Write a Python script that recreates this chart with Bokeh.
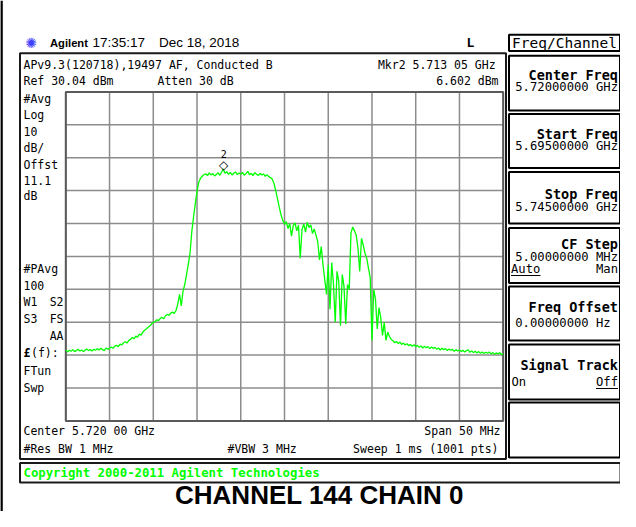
import numpy as np
from bokeh.plotting import figure
from bokeh.models import Range1d
from bokeh.core.properties import value
from bokeh.embed import file_html
from bokeh.resources import INLINE

# ---------------- data ----------------
start_ghz = 5.695
stop_ghz = 5.745
step_mhz = 0.2
ref_dbm = 30.04
db_per_div = 10
n_div = 10

trace_dbm = [
    # 5.695 .. 5.700 GHz
    -48.4, -49.0, -48.5, -48.8, -48.3, -48.9, -48.6, -48.2, -48.7, -48.4,
    -48.9, -48.5, -48.1, -48.6, -48.3, -48.7, -48.2, -48.5, -48.0, -48.4,
    -47.9, -48.3, -48.6, -47.8, -48.2, -47.9,
    -47.5, -47.9, -47.2, -47.0, -47.4, -46.6, -46.9, -46.2, -45.9, -46.3, -45.5, -45.2,
    -44.6, -45.0, -44.2, -44.5, -43.6, -43.9, -43.0,
    -42.4, -42.0, -41.5, -41.1, -40.5,
    -40.0, -39.8, -39.2, -39.5, -38.8, -38.5, -38.9, -38.0,
    -37.6, -37.9, -37.2, -36.9, -37.3, -36.4,
    -34.5, -31.5, -35.0, -30.5, -28.5, -25.5, -22.4, -19.0, -12.5, -8.0,
    -4.0, -0.2, 2.6, 3.8, 4.4, 4.9,
    # flat top
    5.1, 4.6, 5.4, 4.8, 5.2, 4.5, 4.9, 5.5, 4.7, 5.6,
    6.6, 5.3, 5.8, 5.0, 5.6, 4.8, 5.3, 5.7, 4.9, 5.4,
    5.0, 5.6, 4.7, 5.2, 5.9, 4.9, 5.3, 4.6, 5.5, 5.0,
    4.6, 5.3, 4.8, 5.1, 4.4, 4.9, 4.3, 4.0,
    3.5, 2.2, 0.0, -2.5, -5.0, -7.3, -9.0,
    # shoulder
    -10.2, -9.4, -11.5, -10.0, -13.8, -10.6, -9.8, -12.2, -10.5, -20.5,
    -11.8, -10.1, -12.6, -9.6, -11.2, -10.4, -13.0, -11.6, -13.5,
    # broken region / second lobe
    -15.5, -21.0, -17.0, -22.5, -27.0, -31.5, -22.5, -36.0, -21.8, -28.5,
    -40.0, -24.5, -27.5, -41.0, -25.5, -29.0, -40.5, -28.5, -30.0, -12.8,
    -11.0, -12.2, -13.5, -17.5, -24.5, -14.5, -16.5, -19.0, -20.5, -23.5,
    -26.5, -45.5, -30.0, -33.0, -42.0, -35.5, -38.5, -44.0, -40.0, -45.5,
    -43.0, -44.3, -45.2,
    # tail
    -45.6, -46.2, -45.8, -46.5, -46.0, -46.7, -46.3, -46.9, -46.5, -47.1,
    -46.7, -47.3, -46.8, -47.4, -47.0, -47.6, -47.2, -47.8, -47.3, -47.7,
    -47.4, -48.0, -47.5, -47.9, -47.6, -48.2, -47.8, -48.4, -47.9, -48.3,
    -48.0, -48.6, -48.1, -48.5, -48.2, -48.8, -48.3, -48.7, -48.4, -48.9,
    -48.5, -49.0, -48.6, -48.4, -49.1, -48.7, -49.2, -48.8, -49.3, -48.9,
    -49.4, -49.0, -49.5, -49.1, -49.4, -49.0, -49.6, -49.2, -49.7, -49.3,
    -49.6, -49.2, -49.8, -49.5,
]
freq_ghz = start_ghz + np.arange(len(trace_dbm)) * step_mhz / 1000.0

mkr_ghz = 5.71305
mkr_dbm = 6.602
mkr_label = "2"

left_labels_top = ["#Avg", "Log", "10", "dB/", "Offst", "11.1", "dB"]
softkey_titles = ["Center Freq", "Start Freq", "Stop Freq", "CF Step", "Freq Offset", "Signal Track", ""]
softkey_values = ["5.72000000 GHz", "5.69500000 GHz", "5.74500000 GHz", "5.00000000 MHz", "0.00000000  Hz", "", ""]

# ---------------- layout (image pixel coordinates) ----------------
TOP = 8
W, H = 620, 511
GX0, GX1 = 73.3, 510.7
GY0, GY1 = 99.4, 428.4

p = figure(width=W, height=H, x_range=Range1d(8, 8 + W), y_range=Range1d(TOP + H, TOP),
           x_axis_type=None, y_axis_type=None, output_backend="svg",
           toolbar_location=None, min_border=0)
p.outline_line_color = None
p.background_fill_color = "white"
p.border_fill_color = "white"

fs = (stop_ghz - start_ghz) / (GX1 - GX0)
bot_dbm = ref_dbm - n_div * db_per_div
ds = n_div * db_per_div / (GY1 - GY0)
p.extra_x_ranges = {"f": Range1d(start_ghz - (GX0 - 8) * fs, stop_ghz + (8 + W - GX1) * fs)}
p.extra_y_ranges = {"d": Range1d(bot_dbm - (TOP + H - GY1) * ds, ref_dbm + (GY0 - TOP) * ds)}

MONO = "DejaVu Sans Mono"
SANS = "Liberation Sans"


def txt(x, y, s, size="11.5px", font=MONO, style="normal", color="black", align="left",
        baseline="middle", **kw):
    p.text(x=[x], y=[y], text=[s], text_font=value(font), text_font_size=value(size),
           text_font_style=style, text_color=color, text_align=align,
           text_baseline=baseline, **kw)


def box(l, r, t, b, color="black", width=2):
    p.quad(left=[l], right=[r], top=[t], bottom=[b], fill_color=None,
           line_color=color, line_width=width)


# outer frame (left edge visible)
p.segment(x0=[9], y0=[TOP], x1=[9], y1=[TOP + H], line_color="black", line_width=2.6)

# header
txt(38.5, 50, "\u273A", size="14px", font="DejaVu Sans", color="#3f3fff", align="center")
txt(57.5, 50, "Agilent", size="11.2px", font=SANS, style="bold")
txt(100, 50, "17:35:17", size="13.5px", font=SANS)
txt(166.5, 50, "Dec 18, 2018", size="13.5px", font=SANS)
txt(478, 50, "L", size="13px", font=MONO, style="bold", align="center")

# main display box
box(27.5, 513.5, 60.8, 466.5, color="#1a1a1a", width=2)

# graticule
vx = [start_ghz + k * (stop_ghz - start_ghz) / n_div for k in range(n_div + 1)]
hy = [ref_dbm - k * db_per_div for k in range(n_div + 1)]
p.segment(x0=vx, y0=[bot_dbm] * len(vx), x1=vx, y1=[ref_dbm] * len(vx),
          x_range_name="f", y_range_name="d", line_color="#8c8c8c", line_width=1.5)
p.segment(x0=[start_ghz] * len(hy), y0=hy, x1=[stop_ghz] * len(hy), y1=hy,
          x_range_name="f", y_range_name="d", line_color="#8c8c8c", line_width=1.5)
p.quad(left=[start_ghz], right=[stop_ghz], top=[ref_dbm], bottom=[bot_dbm],
       x_range_name="f", y_range_name="d", fill_color=None, line_color="#5a5a5a", line_width=2)

# trace
p.line(freq_ghz, trace_dbm, x_range_name="f", y_range_name="d",
       line_color="#00ff00", line_width=1.3)

# marker
p.text(x=[mkr_ghz], y=[mkr_dbm], text=["\u25C7"], x_range_name="f", y_range_name="d",
       text_font=value("DejaVu Sans"), text_font_size=value("12px"), text_font_style="bold",
       text_align="center", text_baseline="middle", y_offset=-4.5, text_color="black")
p.text(x=[mkr_ghz], y=[mkr_dbm], text=[mkr_label], x_range_name="f", y_range_name="d",
       text_font=value(MONO), text_font_size=value("10px"),
       text_align="center", text_baseline="middle", y_offset=-15, text_color="black")

# annotation rows in display
txt(31, 72, "APv9.3(120718),19497 AF, Conducted B")
txt(31, 88.5, "Ref 30.04 dBm")
txt(165, 88.5, "Atten 30 dB")
txt(510, 72, "Mkr2  5.713 05 GHz", align="right")
txt(506, 88.5, "6.602 dBm", align="right")

ys_top = [106, 122, 138.8, 155, 172, 188.2, 203.5]
for yy, s in zip(ys_top, left_labels_top):
    txt(31, yy, s)
txt(31, 276, "#PAvg")
txt(31, 292.7, "100")
txt(31, 309.5, "W1")
txt(71, 309.5, "S2", align="right")
txt(31, 326.5, "S3")
txt(71, 326.5, "FS", align="right")
txt(71, 343.3, "AA", align="right")
txt(31, 360, "\u00A3", style="bold")
txt(38.5, 360, "(f):")
txt(31, 378, "FTun")
txt(31, 395, "Swp")

txt(31, 438.5, "Center 5.720 00 GHz")
txt(508, 438.5, "Span 50 MHz", align="right")
txt(31, 456.7, "#Res BW 1 MHz")
txt(235, 456.7, "#VBW 3 MHz")
txt(506, 456.7, "Sweep 1 ms (1001 pts)", align="right")

# copyright bar
box(27.5, 628, 470.5, 490, color="#1a1a1a", width=2)
txt(31, 480.5, "Copyright 2000-2011 Agilent Technologies", size="12.3px", style="bold",
    color="#00ff00")

# caption (kept inside the canvas)
txt(327, 502, "CHANNEL 144 CHAIN 0", size="26px", font=SANS, style="bold", align="center")

# softkey panel
box(516.5, 627.5, 42.3, 58.5, width=2)
txt(572, 50.5, "Freq/Channel", size="14.5px", align="center")

tops = [63.3, 121.5, 179.5, 235.5, 294, 352, 410]
bots = [118, 175.5, 231, 290.5, 348, 407, 465]
title_y = [82, 141, 201, 251, 314, 372, None]
value_y = [94, 153.5, 214, 264, 330.5, None, None]
for t, b, ti, vi, ty, vy in zip(tops, bots, softkey_titles, softkey_values, title_y, value_y):
    box(516.5, 627.5, t, b, width=2)
    if ti:
        txt(625.5, ty, ti, size="13.5px", style="bold", align="right")
    if vi:
        txt(625.5, vy, vi, size="12.2px", align="right")

# CF Step Auto/Man
txt(518.5, 276.5, "Auto", size="12.2px")
p.segment(x0=[518.5], y0=[283], x1=[548], y1=[283], line_color="black", line_width=1)
txt(625.5, 276.5, "Man", size="12.2px", align="right")
# Signal Track On/Off
txt(519, 389.5, "On", size="12.2px")
txt(625.5, 389.5, "Off", size="12.2px", align="right")
p.segment(x0=[603.5], y0=[396], x1=[625.5], y1=[396], line_color="black", line_width=1)

open("out.html", "w").write(file_html(p, INLINE))
